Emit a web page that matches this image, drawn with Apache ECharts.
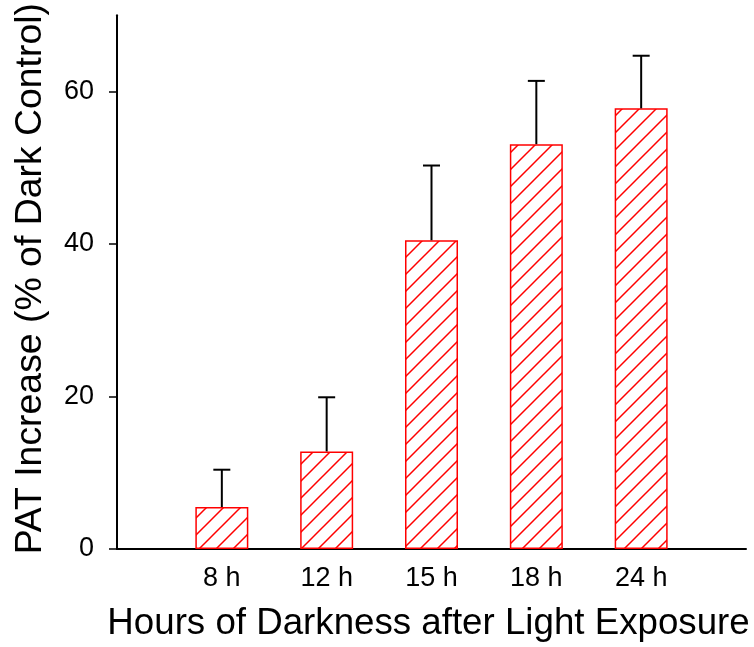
<!DOCTYPE html>
<html>
<head>
<meta charset="utf-8">
<script src="https://cdn.jsdelivr.net/npm/echarts@6/dist/echarts.min.js"></script>
<style>
html,body{margin:0;padding:0;background:#fff;}
#c{width:754px;height:647px;}
</style>
</head>
<body>
<div id="c"></div>
<script>
var categories = ['8 h', '12 h', '15 h', '18 h', '24 h'];
var means = [5.5, 12.8, 40.5, 53.1, 57.8];
var errors = [4.9, 7.1, 9.8, 8.3, 6.9];
var yTicks = [0, 20, 40, 60];
var yMax = 70;
var xTitle = 'Hours of Darkness after Light Exposure';
var yTitle = 'PAT Increase (% of Dark Control)';

var FONT = '"Liberation Sans", Arial, sans-serif';

// hatch pattern
var s = 17;
var cv = document.createElement('canvas');
cv.width = s; cv.height = s;
var g = cv.getContext('2d');
g.fillStyle = '#fff';
g.fillRect(0, 0, s, s);
g.strokeStyle = '#ff0000';
g.lineWidth = 1.5;
g.beginPath();
g.moveTo(0, s); g.lineTo(s, 0);
g.moveTo(-2, 2); g.lineTo(2, -2);
g.moveTo(s - 2, s + 2); g.lineTo(s + 2, s - 2);
g.stroke();

var axisCats = [''].concat(categories).concat(['']);
var barData = means.map(function (v, i) { return [i + 1, v]; });
var errData = means.map(function (v, i) { return [i + 1, v, v + errors[i]]; });

var chart = echarts.init(document.getElementById('c'), null, {renderer: 'canvas'});
chart.setOption({
  animation: false,
  backgroundColor: '#fff',
  grid: {left: 117, right: 8, top: 15, bottom: 98, containLabel: false},
  xAxis: {
    type: 'category',
    data: axisCats,
    boundaryGap: false,
    axisLine: {lineStyle: {color: '#000', width: 2}},
    axisTick: {show: false},
    axisLabel: {color: '#000', fontSize: 27, fontFamily: FONT, margin: 16, interval: 0},
    splitLine: {show: false},
    name: xTitle,
    nameLocation: 'middle',
    nameGap: 56,
    nameTextStyle: {color: '#000', fontSize: 36.7, fontFamily: FONT, padding: [0, 6, 0, 0]}
  },
  yAxis: {
    type: 'value',
    min: 0,
    max: yMax,
    interval: 20,
    axisLine: {show: true, lineStyle: {color: '#000', width: 2}},
    axisTick: {show: true, inside: false, length: 8, lineStyle: {color: '#000', width: 1.5}, customValues: yTicks},
    axisLabel: {color: '#000', fontSize: 27, fontFamily: FONT, margin: 23, customValues: yTicks},
    splitLine: {show: false},
    name: yTitle,
    nameLocation: 'middle',
    nameGap: 68,
    nameTextStyle: {color: '#000', fontSize: 37.4, fontFamily: FONT, padding: [0, 0, 0, 7]}
  },
  series: [
    {
      type: 'bar',
      data: barData,
      barWidth: 53,
      itemStyle: {color: {image: cv, repeat: 'repeat'}, borderColor: '#ff0000', borderWidth: 1.5},
      z: 2
    },
    {
      type: 'custom',
      data: errData,
      z: 3,
      renderItem: function (params, api) {
        var x = api.value(0);
        var p0 = api.coord([x, api.value(1)]);
        var p1 = api.coord([x, api.value(2)]);
        var hw = 8.5;
        return {
          type: 'group',
          children: [
            {type: 'line', shape: {x1: p0[0], y1: p0[1], x2: p1[0], y2: p1[1]}, style: {stroke: '#000', lineWidth: 2}},
            {type: 'line', shape: {x1: p1[0] - hw, y1: p1[1], x2: p1[0] + hw, y2: p1[1]}, style: {stroke: '#000', lineWidth: 2}}
          ]
        };
      }
    }
  ]
});
</script>
</body>
</html>
